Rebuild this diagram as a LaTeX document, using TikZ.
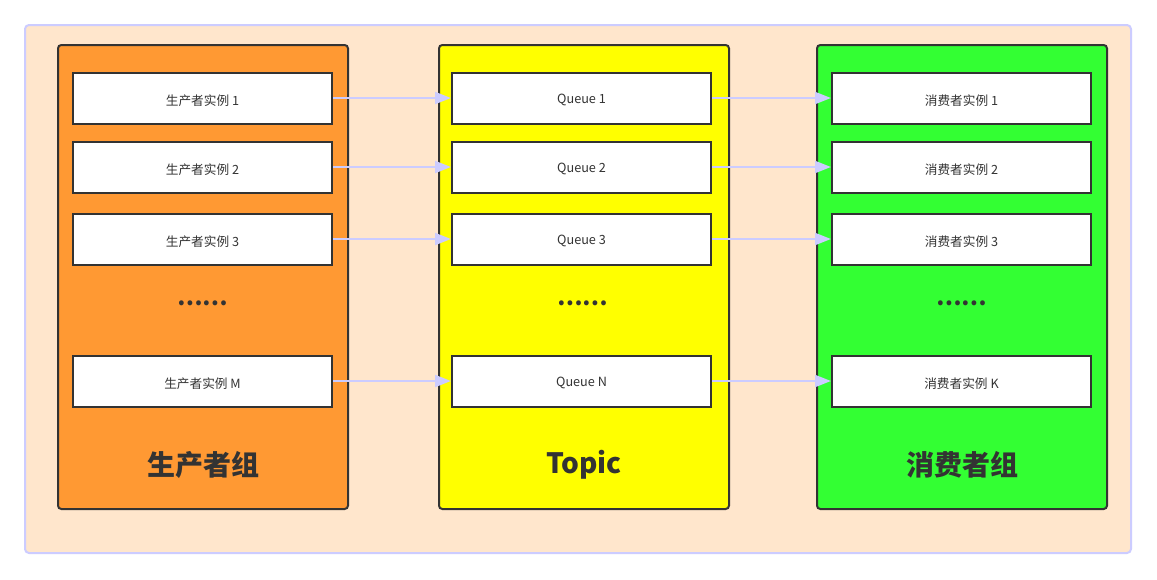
\documentclass[tikz,border=0pt]{standalone}
\usepackage{fontspec}
\setmainfont{Noto Sans CJK SC}
\usetikzlibrary{arrows.meta}
\definecolor{bgfill}{HTML}{FFE6CC}
\definecolor{bgline}{HTML}{CCCCFF}
\definecolor{orangec}{HTML}{FF9933}
\definecolor{yellowc}{HTML}{FFFF00}
\definecolor{greenc}{HTML}{33FF33}
\definecolor{darkc}{HTML}{333333}
\newcommand{\lowered}[1]{\raisebox{-1.8pt}[\height][\depth]{#1}}
\tikzset{
  grp/.style={draw=darkc, line width=1.5pt, rounded corners=2.5pt},
  item/.style={draw=darkc, fill=white, line width=1.5pt, minimum width=259*0.75pt, minimum height=51*0.75pt, inner sep=0pt, font=\fontsize{9.5}{11}\selectfont, text=darkc},
  dotsl/.style={font=\fontsize{17}{18}\selectfont\bfseries, text=darkc},
  ttl/.style={font=\fontsize{21}{24}\selectfont\bfseries, text=darkc},
  conn/.style={draw=bgline, line width=1.5pt, -{Triangle[length=12pt,width=9pt]}}
}
\begin{document}
\begin{tikzpicture}[x=0.75pt,y=-0.75pt]
\useasboundingbox (0,0) rectangle (1157,579);
\fill[white] (0,0) rectangle (1157,579);
\draw[fill=bgfill, draw=bgline, line width=1.5pt, rounded corners=3pt] (25,25) rectangle (1131,553);
\draw[grp, fill=orangec] (58,45) rectangle (348,509);
\draw[grp, fill=yellowc] (439,45) rectangle (729,509);
\draw[grp, fill=greenc] (817,45) rectangle (1107,509);
% producers
\node[item] (p1) at (202.5,98) {\lowered{生产者实例 1}};
\node[item] (p2) at (202.5,167) {\lowered{生产者实例 2}};
\node[item] (p3) at (202.5,239) {\lowered{生产者实例 3}};
\node[dotsl] (pd) at (202.5,303) {……};
\node[item] (pm) at (202.5,381) {\lowered{生产者实例 M}};
\node[ttl] (pt) at (203,465) {生产者组};
% queues
\node[item] (q1) at (581.5,98) {\lowered{Queue 1}};
\node[item] (q2) at (581.5,167) {\lowered{Queue 2}};
\node[item] (q3) at (581.5,239) {\lowered{Queue 3}};
\node[dotsl] (qd) at (582.5,303) {……};
\node[item] (qn) at (581.5,381) {\lowered{Queue N}};
\node[ttl] (qt) at (584,465) {Topic};
% consumers
\node[item] (c1) at (961.5,98) {\lowered{消费者实例 1}};
\node[item] (c2) at (961.5,167) {\lowered{消费者实例 2}};
\node[item] (c3) at (961.5,239) {\lowered{消费者实例 3}};
\node[dotsl] (cd) at (961.5,303) {……};
\node[item] (ck) at (961.5,381) {\lowered{消费者实例 K}};
\node[ttl] (ct) at (962,465) {消费者组};
% connectors
\foreach \a/\b in {p1/q1,p2/q2,p3/q3,pm/qn,q1/c1,q2/c2,q3/c3,qn/ck}{
  \draw[conn] (\a.east) -- (\b.west);
}
\end{tikzpicture}
\end{document}
